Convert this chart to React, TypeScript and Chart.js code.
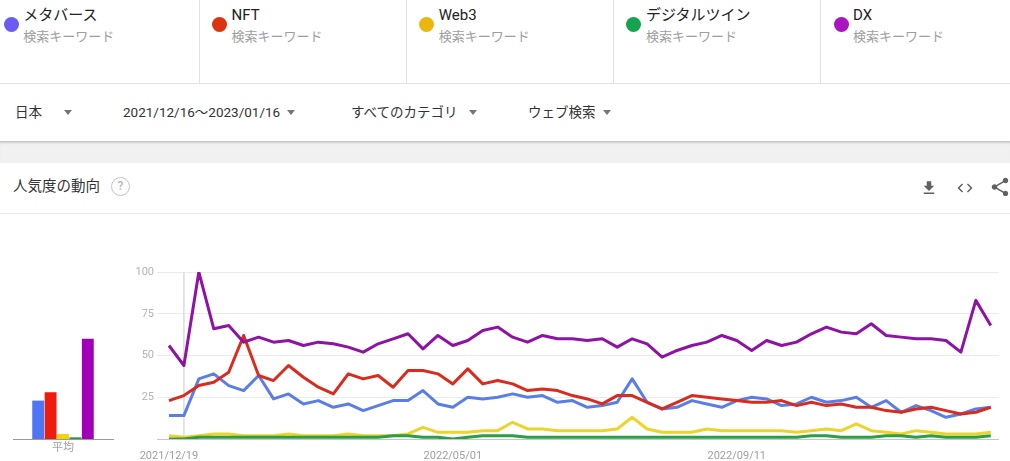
import React, { useEffect, useRef } from "react";
import { Chart, registerables } from "chart.js";

Chart.register(...registerables);

const FONT = 'Roboto, "Noto Sans CJK JP", "Noto Sans", sans-serif';

// ---- data ----
const seriesNames = ["メタバース", "NFT", "Web3", "デジタルツイン", "DX"];
const subtitle = "検索キーワード";

const weeks = [
  "2021/12/19", "2021/12/26", "2022/01/02", "2022/01/09", "2022/01/16", "2022/01/23", "2022/01/30",
  "2022/02/06", "2022/02/13", "2022/02/20", "2022/02/27", "2022/03/06", "2022/03/13", "2022/03/20",
  "2022/03/27", "2022/04/03", "2022/04/10", "2022/04/17", "2022/04/24", "2022/05/01", "2022/05/08",
  "2022/05/15", "2022/05/22", "2022/05/29", "2022/06/05", "2022/06/12", "2022/06/19", "2022/06/26",
  "2022/07/03", "2022/07/10", "2022/07/17", "2022/07/24", "2022/07/31", "2022/08/07", "2022/08/14",
  "2022/08/21", "2022/08/28", "2022/09/04", "2022/09/11", "2022/09/18", "2022/09/25", "2022/10/02",
  "2022/10/09", "2022/10/16", "2022/10/23", "2022/10/30", "2022/11/06", "2022/11/13", "2022/11/20",
  "2022/11/27", "2022/12/04", "2022/12/11", "2022/12/18", "2022/12/25", "2023/01/01", "2023/01/08",
];

const metaverse = [
  14, 14, 36, 39, 32, 29, 38, 24, 27, 21, 23, 19, 21, 17, 20, 23, 23, 29, 21, 19, 25, 24, 25, 27, 25, 26, 22, 23,
  19, 20, 22, 36, 22, 18, 19, 23, 21, 19, 23, 25, 24, 20, 21, 25, 22, 23, 25, 19, 23, 16, 20, 17, 13, 15, 18, 19,
];
const nft = [
  23, 26, 32, 34, 40, 62, 38, 35, 44, 37, 31, 27, 39, 36, 38, 31, 41, 41, 39, 33, 42, 33, 35, 33, 29, 30, 29, 26,
  24, 21, 26, 26, 22, 18, 22, 26, 25, 24, 23, 22, 22, 23, 20, 22, 20, 21, 19, 19, 17, 16, 18, 19, 17, 15, 16, 19,
];
const web3 = [
  2, 1, 2, 3, 3, 2, 2, 2, 3, 2, 2, 2, 3, 2, 2, 2, 3, 7, 4, 4, 4, 5, 5, 10, 6, 6, 5, 5,
  5, 5, 6, 13, 6, 4, 4, 4, 6, 5, 5, 5, 5, 5, 4, 5, 6, 5, 9, 5, 4, 3, 5, 4, 3, 3, 3, 4,
];
const digitalTwin = [
  0, 0, 1, 1, 1, 1, 1, 1, 1, 1, 1, 1, 1, 1, 1, 2, 2, 1, 1, 0, 1, 2, 2, 2, 1, 1, 1, 1,
  1, 1, 1, 1, 1, 1, 1, 1, 1, 1, 1, 1, 1, 1, 1, 2, 2, 1, 1, 1, 2, 2, 1, 2, 1, 1, 1, 2,
];
const dx = [
  56, 44, 100, 66, 68, 58, 61, 58, 59, 56, 58, 57, 55, 52, 57, 60, 63, 54, 62, 56, 59, 65, 67, 61, 58, 62, 60, 60,
  59, 60, 55, 60, 57, 49, 53, 56, 58, 62, 59, 53, 59, 56, 58, 63, 67, 64, 63, 69, 62, 61, 60, 60, 59, 52, 83, 68,
];

const averageLabel = "平均";
const averages = [23, 28, 3, 1, 60];

const tickWeeks = ["2021/12/19", "2022/05/01", "2022/09/11"];
const yTickValues = [0, 25, 50, 75, 100];
const hoverWeek = "2021/12/26";

const filterItems = ["日本", "2021/12/16～2023/01/16", "すべてのカテゴリ", "ウェブ検索"];
const sectionTitle = "人気度の動向";

// ---- styles ----
const lineColors = ["#5b7ee6", "#d92b1e", "#ecd42c", "#2a9f45", "#8e12a4"];
const barColors = ["#4e76f4", "#ee1c0e", "#f4d400", "#1f9b45", "#a000b8"];
const dotColors = ["#6a5cf2", "#dd3311", "#ebb70f", "#15a34f", "#aa14c2"];
const filterX = [15, 123, 351, 528];
const caretX = [64, 287, 469, 603];

function TrendChart() {
  const ref = useRef<HTMLCanvasElement>(null);
  useEffect(() => {
    const series = [metaverse, nft, web3, digitalTwin, dx];
    const hoverPlugin = {
      id: "hoverLine",
      beforeDatasetsDraw(chart: any) {
        const { ctx, chartArea, scales } = chart;
        const x = scales.x.getPixelForValue(weeks.indexOf(hoverWeek));
        ctx.save();
        ctx.strokeStyle = "#dcdcdc";
        ctx.lineWidth = 1.5;
        ctx.beginPath();
        ctx.moveTo(x, chartArea.top);
        ctx.lineTo(x, chartArea.bottom);
        ctx.stroke();
        ctx.restore();
      },
    };
    const chart = new Chart(ref.current as HTMLCanvasElement, {
      type: "line",
      data: {
        datasets: series.map((s, k) => ({
          label: seriesNames[k],
          data: s.map((v, i) => ({ x: i, y: v })),
          borderColor: lineColors[k],
          backgroundColor: lineColors[k],
          borderWidth: 3,
          pointRadius: 0,
          tension: 0,
          fill: false,
          order: series.length - k,
          borderJoinStyle: "round",
        })),
      },
      options: {
        responsive: false,
        animation: false,
        events: [],
        layout: { padding: { top: 10, right: 11, left: 0, bottom: 0 } },
        plugins: { legend: { display: false }, tooltip: { enabled: false } },
        scales: {
          x: {
            type: "linear",
            min: -0.8,
            max: weeks.length - 1 + 0.55,
            grid: { display: false },
            border: { display: false },
            afterBuildTicks: (axis: any) => {
              axis.ticks = tickWeeks.map((w) => ({ value: weeks.indexOf(w) }));
            },
            ticks: {
              autoSkip: false,
              maxRotation: 0,
              padding: 3,
              color: "#a0a0a0",
              font: { family: FONT, size: 11 },
              callback: (v: any) => weeks[v] ?? "",
            },
            afterFit: (axis: any) => {
              axis.height = 22;
            },
          },
          y: {
            min: 0,
            max: 100,
            afterBuildTicks: (axis: any) => {
              axis.ticks = yTickValues.map((v) => ({ value: v }));
            },
            grid: {
              drawTicks: false,
              lineWidth: 1,
              color: (c: any) => (c.tick && c.tick.value === 0 ? "#c6c6c6" : "#ebebeb"),
            },
            border: { display: false },
            ticks: {
              padding: 3,
              color: "#b3b3b3",
              font: { family: FONT, size: 11 },
              callback: (v: any) => (v === 0 ? "" : String(v)),
            },
            afterFit: (axis: any) => {
              axis.width = 57;
            },
          },
        },
      } as any,
      plugins: [hoverPlugin],
    });
    return () => chart.destroy();
  }, []);
  return (
    <canvas
      ref={ref}
      width={910}
      height={199}
      style={{ position: "absolute", left: 100, top: 262, width: 910, height: 199 }}
    />
  );
}

function AverageChart() {
  const ref = useRef<HTMLCanvasElement>(null);
  useEffect(() => {
    const chart = new Chart(ref.current as HTMLCanvasElement, {
      type: "bar",
      data: {
        labels: [averageLabel],
        datasets: averages.map((v, k) => ({
          label: seriesNames[k],
          data: [v],
          backgroundColor: barColors[k],
          borderWidth: 0,
          categoryPercentage: 0.62,
          barPercentage: 0.96,
        })),
      },
      options: {
        responsive: false,
        animation: false,
        events: [],
        layout: { padding: { top: 10, right: 17, left: 13, bottom: 0 } },
        plugins: { legend: { display: false }, tooltip: { enabled: false } },
        scales: {
          x: {
            grid: { display: false, drawTicks: false },
            border: { display: true, color: "#9a9a9a", width: 1 },
            ticks: { padding: 3, color: "#a0a0a0", font: { family: FONT, size: 11 } },
            afterFit: (axis: any) => {
              axis.height = 22;
            },
          },
          y: { display: false, min: 0, max: 100 },
        },
      } as any,
    });
    return () => chart.destroy();
  }, []);
  return (
    <canvas
      ref={ref}
      width={130}
      height={199}
      style={{ position: "absolute", left: 0, top: 262, width: 130, height: 199 }}
    />
  );
}

function Caret({ left }: { left: number }) {
  return (
    <div
      style={{
        position: "absolute",
        left,
        top: 110,
        width: 0,
        height: 0,
        borderLeft: "4px solid transparent",
        borderRight: "4px solid transparent",
        borderTop: "5px solid #757575",
      }}
    />
  );
}

export default function App() {
  useEffect(() => {
    document.body.style.margin = "0";
  }, []);
  const cardW = 207.2;
  const cardStart = -8.7;
  return (
    <div
      style={{
        position: "absolute",
        left: 0,
        top: 0,
        width: 1010,
        height: 461,
        overflow: "hidden",
        background: "#ffffff",
        fontFamily: FONT,
      }}
    >
      {/* legend cards */}
      {seriesNames.map((name, k) => {
        const left = cardStart + k * cardW;
        return (
          <div
            key={name}
            style={{
              position: "absolute",
              left,
              top: 0,
              width: cardW,
              height: 83,
              borderLeft: k > 0 ? "1px solid #e2e2e2" : "none",
              boxSizing: "border-box",
            }}
          >
            <div
              style={{
                position: "absolute",
                left: 12.5,
                top: 17,
                width: 15,
                height: 15,
                borderRadius: "50%",
                background: dotColors[k],
              }}
            />
            <div
              style={{
                position: "absolute",
                left: 32,
                top: 8,
                fontSize: 15,
                lineHeight: "15px",
                color: "#222",
                whiteSpace: "nowrap",
              }}
            >
              {name}
            </div>
            <div
              style={{
                position: "absolute",
                left: 32,
                top: 30,
                fontSize: 13,
                lineHeight: "13px",
                color: "#9e9e9e",
                whiteSpace: "nowrap",
              }}
            >
              {subtitle}
            </div>
          </div>
        );
      })}
      <div style={{ position: "absolute", left: 0, top: 83, width: 1010, height: 1, background: "#e2e2e2" }} />

      {/* filter bar */}
      {filterItems.map((t, i) => (
        <div
          key={t}
          style={{
            position: "absolute",
            left: filterX[i],
            top: 102,
            fontSize: 13.5,
            lineHeight: "20px",
            color: "#333",
            whiteSpace: "nowrap",
          }}
        >
          {t}
        </div>
      ))}
      {caretX.map((x) => (
        <Caret key={x} left={x} />
      ))}
      <div
        style={{
          position: "absolute",
          left: 0,
          top: 141,
          width: 1010,
          height: 22,
          background: "#f1f1f1",
          borderTop: "1px solid #c8c8c8",
          boxShadow: "inset 0 2px 2px -1px rgba(0,0,0,0.15)",
          boxSizing: "border-box",
        }}
      />

      {/* section header */}
      <div
        style={{
          position: "absolute",
          left: 13,
          top: 177,
          fontSize: 14.5,
          lineHeight: "20px",
          color: "#333",
          whiteSpace: "nowrap",
        }}
      >
        {sectionTitle}
      </div>
      <div
        style={{
          position: "absolute",
          left: 111,
          top: 177,
          width: 17,
          height: 17,
          borderRadius: "50%",
          border: "1.5px solid #c4c4c4",
          color: "#b8b8b8",
          fontSize: 12,
          lineHeight: "17px",
          textAlign: "center",
          fontWeight: 500,
        }}
      >
        ?
      </div>
      <svg style={{ position: "absolute", left: 920, top: 179 }} width={18} height={18} viewBox="0 0 24 24">
        <path d="M19 9h-4V3H9v6H5l7 7 7-7zM5 18v2h14v-2H5z" fill="#616161" />
      </svg>
      <svg style={{ position: "absolute", left: 956, top: 179 }} width={18} height={18} viewBox="0 0 24 24">
        <path
          d="M9.4 16.6L4.8 12l4.6-4.6L8 6l-6 6 6 6 1.4-1.4zm5.2 0l4.6-4.6-4.6-4.6L16 6l6 6-6 6-1.4-1.4z"
          fill="#616161"
        />
      </svg>
      <svg style={{ position: "absolute", left: 989, top: 176 }} width={22} height={22} viewBox="0 0 24 24">
        <path
          d="M18 16.08c-.76 0-1.44.3-1.96.77L8.91 12.7c.05-.23.09-.46.09-.7s-.04-.47-.09-.7l7.05-4.11c.54.5 1.25.81 2.04.81 1.66 0 3-1.34 3-3s-1.34-3-3-3-3 1.34-3 3c0 .24.04.47.09.7L8.04 9.81C7.5 9.31 6.79 9 6 9c-1.66 0-3 1.34-3 3s1.34 3 3 3c.79 0 1.5-.31 2.04-.81l7.12 4.16c-.05.21-.08.43-.08.65 0 1.61 1.31 2.92 2.92 2.92 1.61 0 2.92-1.31 2.92-2.92s-1.31-2.92-2.92-2.92z"
          fill="#616161"
        />
      </svg>
      <div style={{ position: "absolute", left: 0, top: 213, width: 1010, height: 1, background: "#e6e6e6" }} />

      <AverageChart />
      <TrendChart />
    </div>
  );
}
